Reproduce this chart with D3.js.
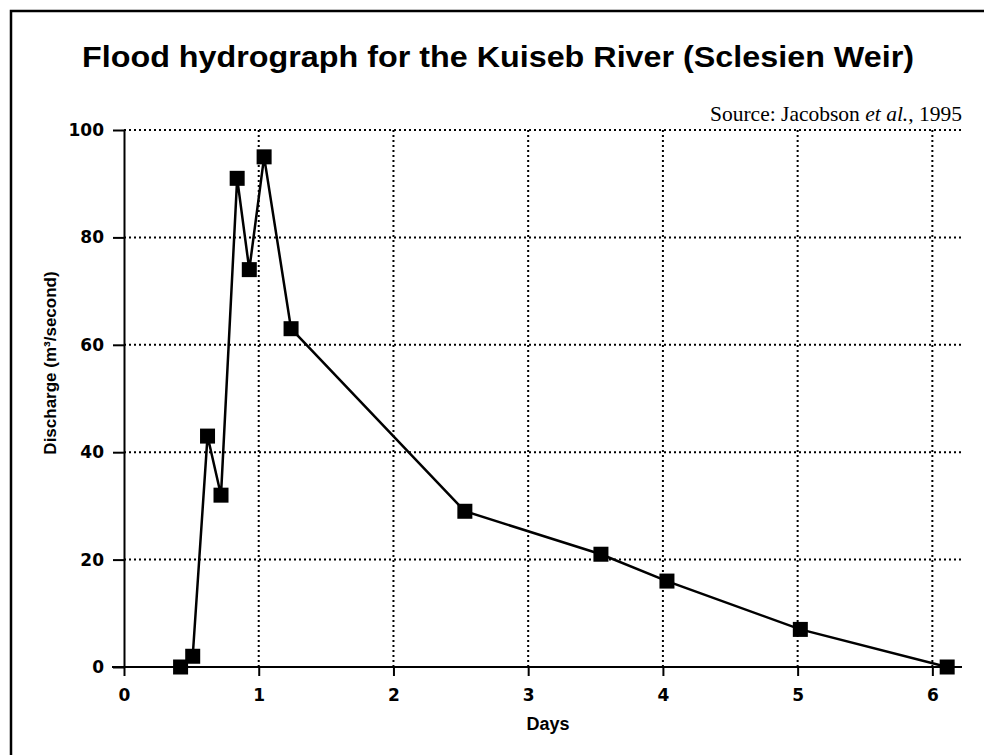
<!DOCTYPE html>
<html><head><meta charset="utf-8">
<script src="https://cdn.jsdelivr.net/npm/d3@7"></script>
<style>body{margin:0;background:#fff;} svg{display:block;}</style>
</head><body>
<script>
const days = [0.42, 0.51, 0.62, 0.72, 0.84, 0.93, 1.04, 1.24, 2.53, 3.54, 4.03, 5.02, 6.11];
const discharge = [0, 2, 43, 32, 91, 74, 95, 63, 29, 21, 16, 7, 0];
const xTicks = [0, 1, 2, 3, 4, 5, 6];
const yTicks = [0, 20, 40, 60, 80, 100];
const title = "Flood hydrograph for the Kuiseb River (Sclesien Weir)";
const xLabel = "Days";
const yLabel = "Discharge (m³/second)";

const W = 984, H = 755;
const svg = d3.select("body").append("svg").attr("width", W).attr("height", H);
const SANS = "Liberation Sans, Arial, sans-serif";
const TICKF = "DejaVu Sans, sans-serif";

// frame (left and top borders)
svg.append("path").attr("d", "M11,755 L11,11 L984,11").attr("fill", "none")
  .attr("stroke", "#000").attr("stroke-width", 2.5);

const x = d3.scaleLinear().domain([0, 6.22]).range([124, 962]);
const y = d3.scaleLinear().domain([0, 100]).range([667, 130]);

// title
svg.append("text").attr("x", 498).attr("y", 67).attr("text-anchor", "middle")
  .style("font-family", SANS).style("font-weight", "bold")
  .style("font-size", "29px").attr("textLength", 832).attr("lengthAdjust", "spacingAndGlyphs")
  .text(title);

// source
const src = svg.append("text").attr("x", 962).attr("y", 121).attr("text-anchor", "end")
  .style("font-family", "Liberation Serif, Times New Roman, serif").style("font-size", "21.5px");
src.append("tspan").text("Source: Jacobson ");
src.append("tspan").style("font-style", "italic").text("et al.");
src.append("tspan").text(", 1995");

// grid
const grid = svg.append("g").attr("stroke", "#000").attr("stroke-width", 2)
  .attr("stroke-dasharray", "2,3").attr("fill", "none");
grid.selectAll("line.h").data(yTicks.filter(d => d > 0)).join("line")
  .attr("x1", x(0)).attr("x2", x(6.22)).attr("y1", d => y(d)).attr("y2", d => y(d));
grid.selectAll("line.v").data(xTicks.filter(d => d > 0)).join("line")
  .attr("x1", d => x(d)).attr("x2", d => x(d)).attr("y1", y(100)).attr("y2", y(0));

// axes
const xAxis = d3.axisBottom(x).tickValues(xTicks).tickFormat(d3.format("d"))
  .tickSize(9).tickSizeOuter(0).tickPadding(13);
const gx = svg.append("g").attr("transform", `translate(0,${y(0)})`).call(xAxis);
gx.select(".domain").attr("d", `M${x(0) - 12},0H${x(6.22)}`).attr("stroke-width", 2);
gx.selectAll(".tick line").attr("stroke-width", 2);
gx.selectAll("text").style("font-family", TICKF)
  .style("font-weight", "bold").style("font-size", "17px").attr("fill", "#000");

const yAxis = d3.axisLeft(y).tickValues(yTicks).tickFormat(d3.format("d"))
  .tickSize(11).tickSizeOuter(0).tickPadding(9);
const gy = svg.append("g").attr("transform", `translate(${x(0)},0)`).call(yAxis);
gy.select(".domain").attr("stroke-width", 2);
gy.selectAll(".tick line").attr("stroke-width", 2);
gy.selectAll("text").style("font-family", TICKF)
  .style("font-weight", "bold").style("font-size", "17px").attr("fill", "#000");

svg.append("text").attr("x", 548).attr("y", 730).attr("text-anchor", "middle")
  .style("font-family", SANS).style("font-weight", "bold")
  .style("font-size", "18px").text(xLabel);

svg.append("text").attr("transform", "translate(56,363) rotate(-90)").attr("text-anchor", "middle")
  .style("font-family", SANS).style("font-weight", "bold")
  .style("font-size", "17px").text(yLabel);

// line
const pts = days.map((d, i) => [d, discharge[i]]);
svg.append("path").datum(pts)
  .attr("d", d3.line().x(d => x(d[0])).y(d => y(d[1])))
  .attr("fill", "none").attr("stroke", "#000").attr("stroke-width", 2.5);

// markers
const s = 15;
svg.selectAll("rect.m").data(pts).join("rect")
  .attr("x", d => x(d[0]) - s / 2).attr("y", d => y(d[1]) - s / 2)
  .attr("width", s).attr("height", s).attr("fill", "#000");
</script>
</body></html>
